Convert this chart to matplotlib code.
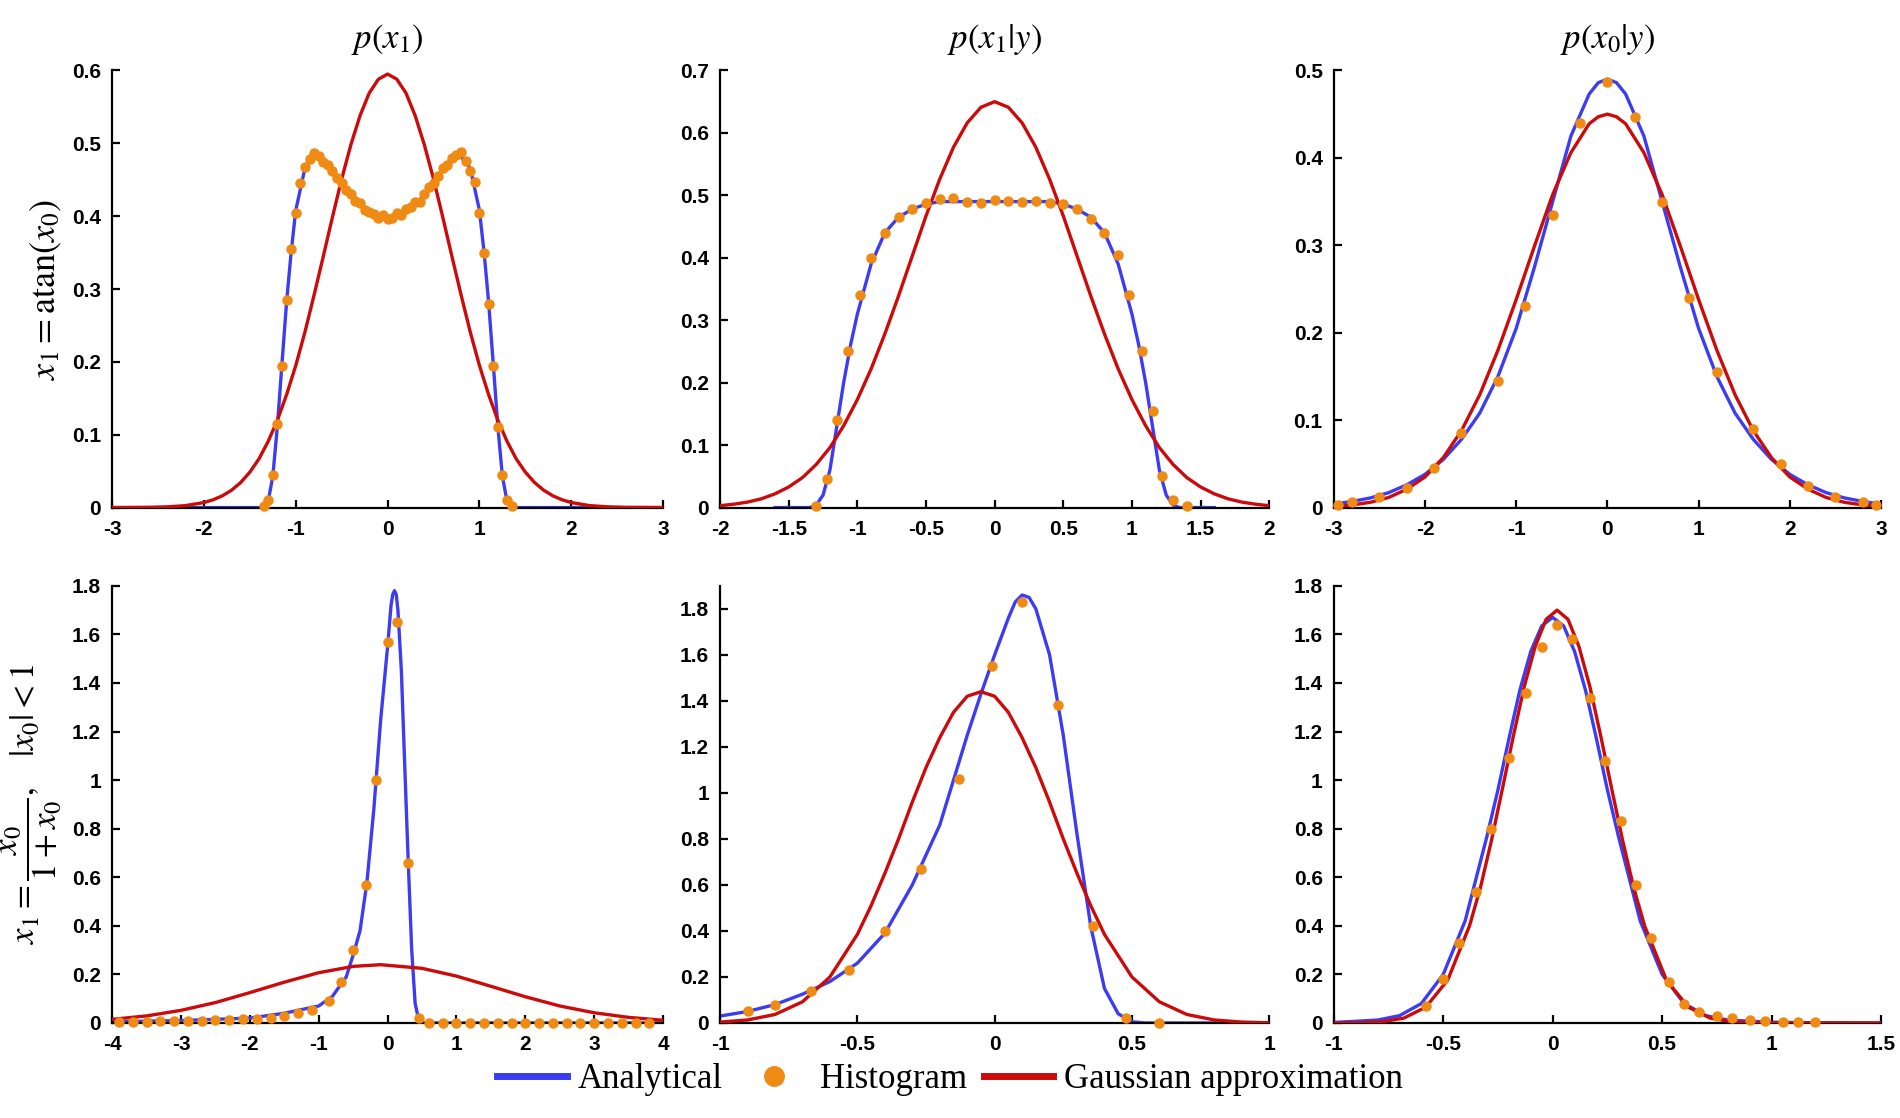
import matplotlib.pyplot as plt
from matplotlib.lines import Line2D
plt.switch_backend('Agg')

plt.rcParams['mathtext.fontset'] = 'stix'
plt.rcParams['font.family'] = 'Liberation Sans'

BLUE = '#3c3cf2'
ORANGE = '#ef8a12'
RED = '#cc0a0a'

# ---- p(x1), x1 = atan(x0)
a_blue_x = [-3, -1.4, -1.35, -1.3, -1.25, -1.2, -1.15, -1.1, -1.05, -1.0, -0.9, -0.8, -0.7, -0.6, -0.5, -0.4,
            -0.3, -0.2, -0.1, 0, 0.1, 0.2, 0.3, 0.4, 0.5, 0.6, 0.7, 0.8, 0.9, 1.0, 1.05, 1.1, 1.15, 1.2, 1.25,
            1.3, 1.35, 1.4, 3]
a_blue_y = [0, 0, 0.001, 0.009, 0.043, 0.112, 0.198, 0.282, 0.351, 0.408, 0.466, 0.482, 0.479, 0.464, 0.447,
            0.429, 0.416, 0.407, 0.401, 0.399, 0.401, 0.407, 0.416, 0.429, 0.447, 0.464, 0.479, 0.482, 0.466,
            0.408, 0.351, 0.282, 0.198, 0.112, 0.043, 0.009, 0.001, 0, 0]
a_hist_x = [-1.35, -1.3, -1.25, -1.2, -1.15, -1.1, -1.05, -1.0, -0.95, -0.9, -0.85, -0.8, -0.75, -0.7, -0.65,
            -0.6, -0.55, -0.5, -0.45, -0.4, -0.35, -0.3, -0.25, -0.2, -0.15, -0.1, -0.05, 0, 0.05, 0.1, 0.15,
            0.2, 0.25, 0.3, 0.35, 0.4, 0.45, 0.5, 0.55, 0.6, 0.65, 0.7, 0.75, 0.8, 0.85, 0.9, 0.95, 1.0, 1.05,
            1.1, 1.15, 1.2, 1.25, 1.3, 1.35]
a_hist_y = [0.002, 0.011, 0.045, 0.115, 0.195, 0.285, 0.355, 0.405, 0.445, 0.468, 0.478, 0.486, 0.482, 0.474,
            0.470, 0.462, 0.452, 0.445, 0.436, 0.430, 0.421, 0.418, 0.409, 0.406, 0.403, 0.397, 0.402, 0.396,
            0.398, 0.404, 0.401, 0.410, 0.413, 0.419, 0.420, 0.430, 0.440, 0.446, 0.455, 0.466, 0.470, 0.480,
            0.484, 0.488, 0.476, 0.462, 0.447, 0.405, 0.350, 0.280, 0.195, 0.110, 0.045, 0.010, 0.002]
a_red_x = [-3, -2.6, -2.4, -2.2, -2.0, -1.9, -1.8, -1.7, -1.6, -1.5, -1.4, -1.3, -1.2, -1.1, -1.0, -0.9, -0.8,
           -0.7, -0.6, -0.5, -0.4, -0.3, -0.2, -0.1, 0, 0.1, 0.2, 0.3, 0.4, 0.5, 0.6, 0.7, 0.8, 0.9, 1.0, 1.1,
           1.2, 1.3, 1.4, 1.5, 1.6, 1.7, 1.8, 1.9, 2.0, 2.2, 2.4, 2.6, 3]
a_red_y = [0, 0.0003, 0.001, 0.0027, 0.0069, 0.0107, 0.0161, 0.0238, 0.0344, 0.0486, 0.067, 0.091, 0.120, 0.155,
           0.195, 0.241, 0.292, 0.345, 0.399, 0.451, 0.498, 0.538, 0.569, 0.588, 0.595, 0.588, 0.569, 0.538,
           0.498, 0.451, 0.399, 0.345, 0.292, 0.241, 0.195, 0.155, 0.120, 0.091, 0.067, 0.0486, 0.0344, 0.0238,
           0.0161, 0.0107, 0.0069, 0.0027, 0.001, 0.0003, 0]

# ---- p(x1|y), x1 = atan(x0)
b_blue_x = [-1.6, -1.35, -1.3, -1.25, -1.2, -1.15, -1.1, -1.05, -1.0, -0.9, -0.8, -0.7, -0.6, -0.5, -0.4, 0,
            0.4, 0.5, 0.6, 0.7, 0.8, 0.9, 1.0, 1.05, 1.1, 1.15, 1.2, 1.25, 1.3, 1.35, 1.6]
b_blue_y = [0, 0, 0.004, 0.02, 0.06, 0.13, 0.20, 0.26, 0.31, 0.39, 0.44, 0.465, 0.478, 0.486, 0.49, 0.49,
            0.49, 0.486, 0.478, 0.465, 0.44, 0.39, 0.31, 0.26, 0.20, 0.13, 0.06, 0.02, 0.004, 0, 0]
b_hist_x = [-1.3, -1.22, -1.15, -1.07, -0.98, -0.9, -0.8, -0.7, -0.6, -0.5, -0.4, -0.3, -0.2, -0.1, 0,
            0.1, 0.2, 0.3, 0.4, 0.5, 0.6, 0.7, 0.8, 0.9, 0.98, 1.07, 1.15, 1.22, 1.3, 1.4]
b_hist_y = [0.003, 0.045, 0.14, 0.25, 0.34, 0.40, 0.44, 0.465, 0.478, 0.488, 0.494, 0.496, 0.489, 0.487, 0.492,
            0.491, 0.489, 0.491, 0.488, 0.486, 0.478, 0.462, 0.44, 0.405, 0.34, 0.25, 0.155, 0.05, 0.012, 0.002]
b_red_x = [-2.0, -1.9, -1.8, -1.7, -1.6, -1.5, -1.4, -1.3, -1.2, -1.1, -1.0, -0.9, -0.8, -0.7, -0.6, -0.5,
           -0.4, -0.3, -0.2, -0.1, 0, 0.1, 0.2, 0.3, 0.4, 0.5, 0.6, 0.7, 0.8, 0.9, 1.0, 1.1, 1.2, 1.3, 1.4,
           1.5, 1.6, 1.7, 1.8, 1.9, 2.0]
b_red_y = [0.003, 0.0054, 0.0088, 0.014, 0.022, 0.033, 0.048, 0.069, 0.096, 0.131, 0.173, 0.222, 0.278, 0.339,
           0.403, 0.467, 0.526, 0.577, 0.616, 0.641, 0.65, 0.641, 0.616, 0.577, 0.526, 0.467, 0.403, 0.339,
           0.278, 0.222, 0.173, 0.131, 0.096, 0.069, 0.048, 0.033, 0.022, 0.014, 0.0088, 0.0054, 0.003]

# ---- p(x0|y), x1 = atan(x0)
c_blue_x = [-3, -2.8, -2.6, -2.4, -2.2, -2.0, -1.8, -1.6, -1.4, -1.2, -1.0, -0.8, -0.6, -0.4, -0.2, -0.1, 0,
            0.1, 0.2, 0.4, 0.6, 0.8, 1.0, 1.2, 1.4, 1.6, 1.8, 2.0, 2.2, 2.4, 2.6, 2.8, 3]
c_blue_y = [0.004, 0.007, 0.011, 0.017, 0.026, 0.038, 0.055, 0.078, 0.108, 0.150, 0.205, 0.275, 0.350, 0.425,
            0.473, 0.486, 0.49, 0.486, 0.473, 0.425, 0.350, 0.275, 0.205, 0.150, 0.108, 0.078, 0.055, 0.038,
            0.026, 0.017, 0.011, 0.007, 0.004]
c_hist_x = [-2.95, -2.8, -2.5, -2.2, -1.9, -1.6, -1.2, -0.9, -0.6, -0.3, 0, 0.3, 0.6, 0.9, 1.2, 1.6, 1.9,
            2.2, 2.5, 2.8, 2.95]
c_hist_y = [0.003, 0.006, 0.012, 0.022, 0.045, 0.085, 0.145, 0.23, 0.335, 0.44, 0.487, 0.447, 0.35, 0.24,
            0.155, 0.09, 0.05, 0.025, 0.012, 0.006, 0.003]
c_red_x = c_blue_x
c_red_y = [0.0015, 0.003, 0.006, 0.0115, 0.021, 0.035, 0.057, 0.088, 0.129, 0.18, 0.238, 0.299, 0.358, 0.406,
           0.439, 0.447, 0.45, 0.447, 0.439, 0.406, 0.358, 0.299, 0.238, 0.18, 0.129, 0.088, 0.057, 0.035,
           0.021, 0.0115, 0.006, 0.003, 0.0015]

# ---- p(x1), x1 = x0/(1+x0)
d_blue_x = [-4, -3, -2, -1.5, -1, -0.8, -0.6, -0.5, -0.4, -0.3, -0.2, -0.1, 0, 0.05, 0.075, 0.1, 0.125, 0.15,
            0.2, 0.25, 0.3, 0.35, 0.4, 0.45, 0.5, 4]
d_blue_y = [0.005, 0.01, 0.02, 0.04, 0.07, 0.11, 0.19, 0.28, 0.38, 0.58, 0.88, 1.25, 1.55, 1.72, 1.765, 1.78,
            1.765, 1.70, 1.45, 1.05, 0.66, 0.30, 0.08, 0.015, 0, 0]
d_hist_x = [-3.9, -3.7, -3.5, -3.3, -3.1, -2.9, -2.7, -2.5, -2.3, -2.1, -1.9, -1.7, -1.5, -1.3, -1.1,
            -0.85, -0.67, -0.5, -0.31, -0.17, 0.01, 0.13, 0.3, 0.45,
            0.6, 0.8, 1.0, 1.2, 1.4, 1.6, 1.8, 2.0, 2.2, 2.4, 2.6, 2.8, 3.0, 3.2, 3.4, 3.6, 3.8]
d_hist_y = [0.005, 0.005, 0.006, 0.007, 0.008, 0.009, 0.01, 0.011, 0.013, 0.015, 0.018, 0.022, 0.03, 0.04,
            0.055, 0.09, 0.17, 0.30, 0.57, 1.0, 1.57, 1.65, 0.66, 0.02,
            0, 0, 0, 0, 0, 0, 0, 0, 0, 0, 0, 0, 0, 0, 0, 0, 0]
d_red_x = [-4, -3.5, -3, -2.5, -2, -1.5, -1, -0.5, -0.1, 0.5, 1, 1.5, 2, 2.5, 3, 3.5, 4]
d_red_y = [0.015, 0.029, 0.052, 0.084, 0.125, 0.168, 0.207, 0.233, 0.24, 0.225, 0.193, 0.151, 0.108, 0.070,
           0.042, 0.023, 0.011]

# ---- p(x1|y), x1 = x0/(1+x0)
e_blue_x = [-1, -0.9, -0.8, -0.7, -0.6, -0.5, -0.4, -0.3, -0.2, -0.1, -0.05, 0, 0.05, 0.075, 0.1, 0.125,
            0.15, 0.2, 0.25, 0.3, 0.35, 0.4, 0.45, 0.5, 0.55, 1]
e_blue_y = [0.03, 0.05, 0.08, 0.125, 0.18, 0.26, 0.39, 0.60, 0.86, 1.25, 1.43, 1.60, 1.76, 1.83, 1.86, 1.85,
            1.80, 1.60, 1.25, 0.82, 0.42, 0.15, 0.04, 0.005, 0, 0]
e_hist_x = [-0.9, -0.8, -0.67, -0.53, -0.4, -0.27, -0.13, -0.01, 0.1, 0.23, 0.36, 0.48, 0.6]
e_hist_y = [0.05, 0.08, 0.14, 0.23, 0.40, 0.67, 1.06, 1.55, 1.83, 1.38, 0.42, 0.02, 0.0]
e_red_x = [-1, -0.9, -0.8, -0.7, -0.6, -0.5, -0.45, -0.4, -0.35, -0.3, -0.25, -0.2, -0.15, -0.1, -0.05, 0,
           0.05, 0.1, 0.15, 0.2, 0.25, 0.3, 0.35, 0.4, 0.5, 0.6, 0.7, 0.8, 0.9, 1]
e_red_y = [0.004, 0.013, 0.037, 0.092, 0.20, 0.385, 0.51, 0.65, 0.80, 0.96, 1.11, 1.24, 1.35, 1.42, 1.44, 1.42,
           1.35, 1.24, 1.11, 0.96, 0.80, 0.65, 0.51, 0.385, 0.20, 0.092, 0.037, 0.013, 0.004, 0.001]

# ---- p(x0|y), x1 = x0/(1+x0)
f_blue_x = [-1, -0.8, -0.7, -0.6, -0.5, -0.4, -0.3, -0.25, -0.2, -0.15, -0.1, -0.05, 0, 0.05, 0.1, 0.15, 0.2,
            0.25, 0.3, 0.4, 0.5, 0.6, 0.7, 0.8, 1.0, 1.2, 1.5]
f_blue_y = [0.002, 0.012, 0.03, 0.08, 0.20, 0.42, 0.77, 0.96, 1.17, 1.37, 1.53, 1.635, 1.67, 1.635, 1.53, 1.37,
            1.17, 0.96, 0.77, 0.42, 0.20, 0.08, 0.03, 0.012, 0.003, 0.001, 0]
f_hist_x = [-0.58, -0.5, -0.43, -0.35, -0.28, -0.2, -0.12, -0.05, 0.02, 0.09, 0.17, 0.24, 0.31, 0.38, 0.45,
            0.53, 0.6, 0.67, 0.75, 0.82, 0.9, 0.97, 1.05, 1.12, 1.2]
f_hist_y = [0.07, 0.18, 0.33, 0.54, 0.80, 1.09, 1.36, 1.55, 1.64, 1.58, 1.34, 1.08, 0.83, 0.57, 0.35, 0.17,
            0.08, 0.045, 0.03, 0.02, 0.012, 0.008, 0.005, 0.003, 0.002]
f_red_x = [-1, -0.88, -0.78, -0.68, -0.58, -0.48, -0.38, -0.33, -0.28, -0.23, -0.18, -0.13, -0.08, -0.03, 0.02,
           0.07, 0.12, 0.17, 0.22, 0.27, 0.32, 0.37, 0.42, 0.52, 0.62, 0.72, 0.82, 0.92, 1.1, 1.5]
f_red_y = [0.0, 0.001, 0.005, 0.02, 0.065, 0.176, 0.40, 0.558, 0.75, 0.963, 1.18, 1.385, 1.55, 1.662, 1.70,
           1.662, 1.55, 1.385, 1.18, 0.963, 0.75, 0.558, 0.40, 0.176, 0.065, 0.02, 0.005, 0.001, 0, 0]

panels = [
    (a_blue_x, a_blue_y, a_hist_x, a_hist_y, a_red_x, a_red_y, (-3, 3), (0, 0.6),
     [-3, -2, -1, 0, 1, 2, 3], [0, 0.1, 0.2, 0.3, 0.4, 0.5, 0.6]),
    (b_blue_x, b_blue_y, b_hist_x, b_hist_y, b_red_x, b_red_y, (-2, 2), (0, 0.7),
     [-2, -1.5, -1, -0.5, 0, 0.5, 1, 1.5, 2], [0, 0.1, 0.2, 0.3, 0.4, 0.5, 0.6, 0.7]),
    (c_blue_x, c_blue_y, c_hist_x, c_hist_y, c_red_x, c_red_y, (-3, 3), (0, 0.5),
     [-3, -2, -1, 0, 1, 2, 3], [0, 0.1, 0.2, 0.3, 0.4, 0.5]),
    (d_blue_x, d_blue_y, d_hist_x, d_hist_y, d_red_x, d_red_y, (-4, 4), (0, 1.8),
     [-4, -3, -2, -1, 0, 1, 2, 3, 4], [0, 0.2, 0.4, 0.6, 0.8, 1, 1.2, 1.4, 1.6, 1.8]),
    (e_blue_x, e_blue_y, e_hist_x, e_hist_y, e_red_x, e_red_y, (-1, 1), (0, 1.9),
     [-1, -0.5, 0, 0.5, 1], [0, 0.2, 0.4, 0.6, 0.8, 1, 1.2, 1.4, 1.6, 1.8]),
    (f_blue_x, f_blue_y, f_hist_x, f_hist_y, f_red_x, f_red_y, (-1, 1.5), (0, 1.8),
     [-1, -0.5, 0, 0.5, 1, 1.5], [0, 0.2, 0.4, 0.6, 0.8, 1, 1.2, 1.4, 1.6, 1.8]),
]

titles = [r'$p(x_1)$', r'$p(x_1|y)$', r'$p(x_0|y)$']
row_labels = [r'$x_1 = \mathrm{atan}(x_0)$', r'$x_1 = \dfrac{x_0}{1+x_0},\quad |x_0|<1$']

fig = plt.figure(figsize=(19, 11.18), dpi=100)
lefts = [0.059, 0.379, 0.702]
widths = [0.290, 0.289, 0.288]
bottoms = [0.546, 0.085]
height = 0.391

for i, p in enumerate(panels):
    bx, by, hx, hy, rx, ry, xl, yl, xt, yt = p
    r, c = divmod(i, 3)
    ax = fig.add_axes([lefts[c], bottoms[r], widths[c], height])
    ax.plot(bx, by, color=BLUE, lw=2.4, zorder=2)
    ax.plot(rx, ry, color=RED, lw=2.4, zorder=3)
    ax.plot(hx, hy, 'o', color=ORANGE, ms=6.5, zorder=4, clip_on=False)
    ax.set_xlim(xl)
    ax.set_ylim(yl)
    ax.set_xticks(xt)
    ax.set_yticks(yt)
    ax.set_xticklabels([f'{v:g}' for v in xt])
    ax.set_yticklabels([f'{v:g}' for v in yt])
    for s in ['top', 'right']:
        ax.spines[s].set_visible(False)
    for s in ['left', 'bottom']:
        ax.spines[s].set_linewidth(1.6)
    ax.tick_params(direction='in', length=6, width=1.6, labelsize=15)
    ax.tick_params(axis='x', pad=9)
    ax.tick_params(axis='y', pad=8)
    for lab in ax.get_xticklabels() + ax.get_yticklabels():
        lab.set_fontweight('bold')
    if r == 0:
        ax.set_title(titles[c], fontsize=25, pad=16)
    if c == 0:
        ax.set_ylabel(row_labels[r], fontsize=26 if r == 0 else 25, labelpad=6)

handles = [Line2D([], [], color=BLUE, lw=5),
           Line2D([], [], marker='o', ls='none', color=ORANGE, ms=14),
           Line2D([], [], color=RED, lw=5)]
fig.legend(handles, ['Analytical', 'Histogram', 'Gaussian approximation'],
           loc='lower center', bbox_to_anchor=(0.5, -0.008), ncol=3, frameon=False,
           prop={'family': 'Liberation Serif', 'size': 25}, handlelength=2.0,
           handletextpad=0.3, columnspacing=0.5)

fig.savefig('out.png', dpi=100)
